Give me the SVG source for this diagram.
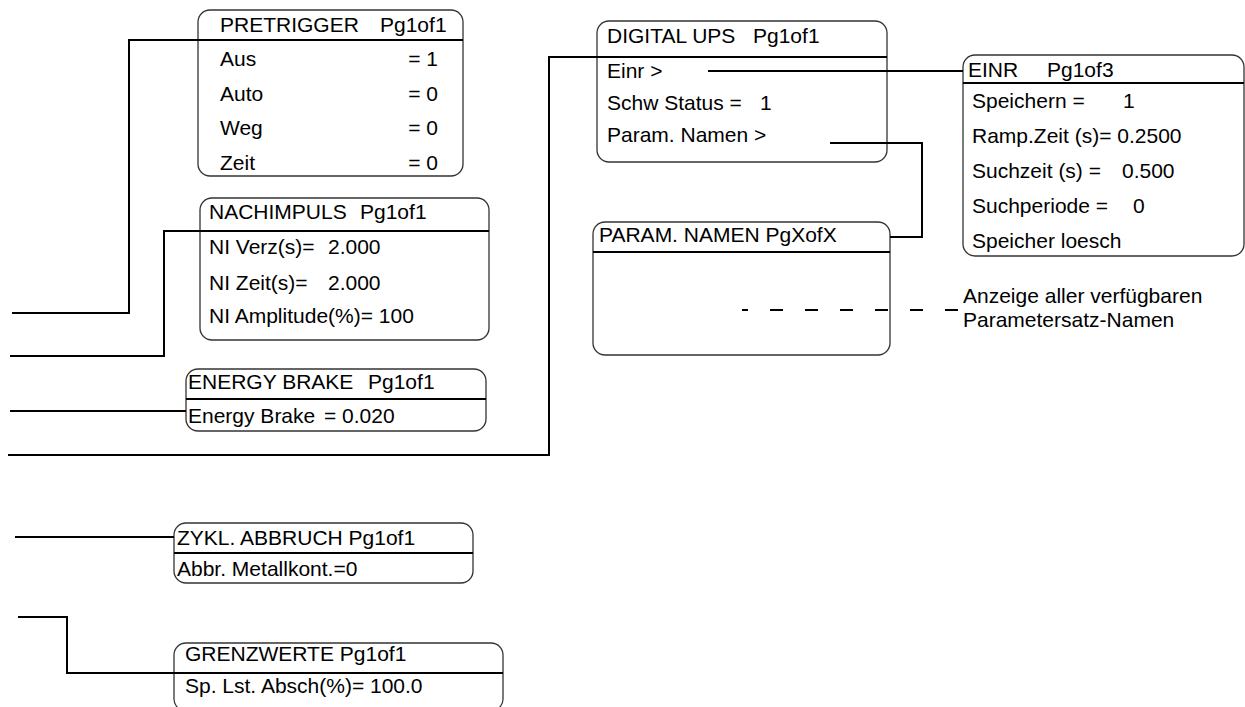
<svg xmlns="http://www.w3.org/2000/svg" width="1245" height="707" viewBox="0 0 1245 707">
<style>
text { font-family: "Liberation Sans", Arial, sans-serif; font-size: 21px; fill: #000; }
.box { fill: #fff; stroke: #333; stroke-width: 1.3; }
.div { stroke: #000; stroke-width: 2; }
.con { fill: none; stroke: #000; stroke-width: 2; }
.dash { fill: none; stroke: #000; stroke-width: 2; stroke-dasharray: 13 22; }
.r { text-anchor: end; }
</style>
<rect width="1245" height="707" fill="#fff"/>

<g id="pretrigger">
  <rect class="box" x="198" y="10" width="265" height="166" rx="12"/>
  <line class="div" x1="198" y1="40" x2="463" y2="40"/>
  <text x="220" y="32">PRETRIGGER</text><text x="380" y="32">Pg1of1</text>
  <text x="220" y="66">Aus</text><text class="r" x="438" y="66">= 1</text>
  <text x="220" y="101">Auto</text><text class="r" x="438" y="101">= 0</text>
  <text x="220" y="135">Weg</text><text class="r" x="438" y="135">= 0</text>
  <text x="220" y="170">Zeit</text><text class="r" x="438" y="170">= 0</text>
</g>

<g id="nachimpuls">
  <rect class="box" x="200" y="198" width="289" height="142" rx="12"/>
  <line class="div" x1="200" y1="231" x2="489" y2="231"/>
  <text x="209" y="219">NACHIMPULS</text><text x="360" y="219">Pg1of1</text>
  <text x="209" y="254">NI Verz(s)=</text><text x="328" y="254">2.000</text>
  <text x="209" y="290">NI Zeit(s)=</text><text x="328" y="290">2.000</text>
  <text x="209" y="323">NI Amplitude(%)= 100</text>
</g>

<g id="energy-brake">
  <rect class="box" x="186" y="369" width="300" height="62" rx="12"/>
  <line class="div" x1="186" y1="399" x2="486" y2="399"/>
  <text x="188" y="389">ENERGY BRAKE</text><text x="368" y="389">Pg1of1</text>
  <text x="188" y="423">Energy Brake</text><text x="324" y="423">= 0.020</text>
</g>

<g id="digital-ups">
  <rect class="box" x="597" y="21" width="290" height="141" rx="12"/>
  <line class="div" x1="597" y1="57" x2="887" y2="57"/>
  <text x="607" y="43">DIGITAL UPS</text><text x="753" y="43">Pg1of1</text>
  <text x="607" y="78">Einr &gt;</text>
  <text x="607" y="110">Schw Status =</text><text x="760" y="110">1</text>
  <text x="607" y="142">Param. Namen &gt;</text>
</g>

<g id="einr">
  <rect class="box" x="963" y="55" width="281" height="201" rx="12"/>
  <line class="div" x1="963" y1="83" x2="1244" y2="83"/>
  <text x="968" y="77">EINR</text><text x="1047" y="77">Pg1of3</text>
  <text x="972" y="108">Speichern =</text><text x="1123" y="108">1</text>
  <text x="972" y="143">Ramp.Zeit (s)= 0.2500</text>
  <text x="972" y="178">Suchzeit (s) =</text><text x="1122" y="178">0.500</text>
  <text x="972" y="213">Suchperiode =</text><text x="1133" y="213">0</text>
  <text x="972" y="248">Speicher loesch</text>
</g>

<g id="param-namen">
  <rect class="box" x="593" y="222" width="297" height="133" rx="12"/>
  <line class="div" x1="593" y1="252" x2="890" y2="252"/>
  <text x="599" y="242">PARAM. NAMEN PgXofX</text>
</g>

<g id="note">
  <text x="963" y="303">Anzeige aller verfügbaren</text>
  <text x="963" y="327">Parametersatz-Namen</text>
</g>

<g id="zykl-abbruch">
  <rect class="box" x="174" y="523" width="299" height="60" rx="12"/>
  <line class="div" x1="174" y1="553" x2="473" y2="553"/>
  <text x="177" y="545">ZYKL. ABBRUCH Pg1of1</text>
  <text x="177" y="576">Abbr. Metallkont.=0</text>
</g>

<g id="grenzwerte">
  <rect class="box" x="174" y="643" width="329" height="68" rx="12"/>
  <line class="div" x1="174" y1="673" x2="503" y2="673"/>
  <text x="185" y="661">GRENZWERTE Pg1of1</text>
  <text x="185" y="693">Sp. Lst. Absch(%)= 100.0</text>
</g>

<g id="connectors">
  <polyline class="con" points="12,313 129,313 129,40 198,40"/>
  <polyline class="con" points="10,356 164,356 164,231 200,231"/>
  <polyline class="con" points="10,411 186,411"/>
  <polyline class="con" points="8,455 549,455 549,57 597,57"/>
  <polyline class="con" points="708,71 963,71"/>
  <polyline class="con" points="830,143 922,143 922,237 890,237"/>
  <polyline class="con" points="15,537 174,537"/>
  <polyline class="con" points="18,617 67,617 67,673 174,673"/>
  <path class="dash" d="M958,310 H742"/>
</g>
</svg>
